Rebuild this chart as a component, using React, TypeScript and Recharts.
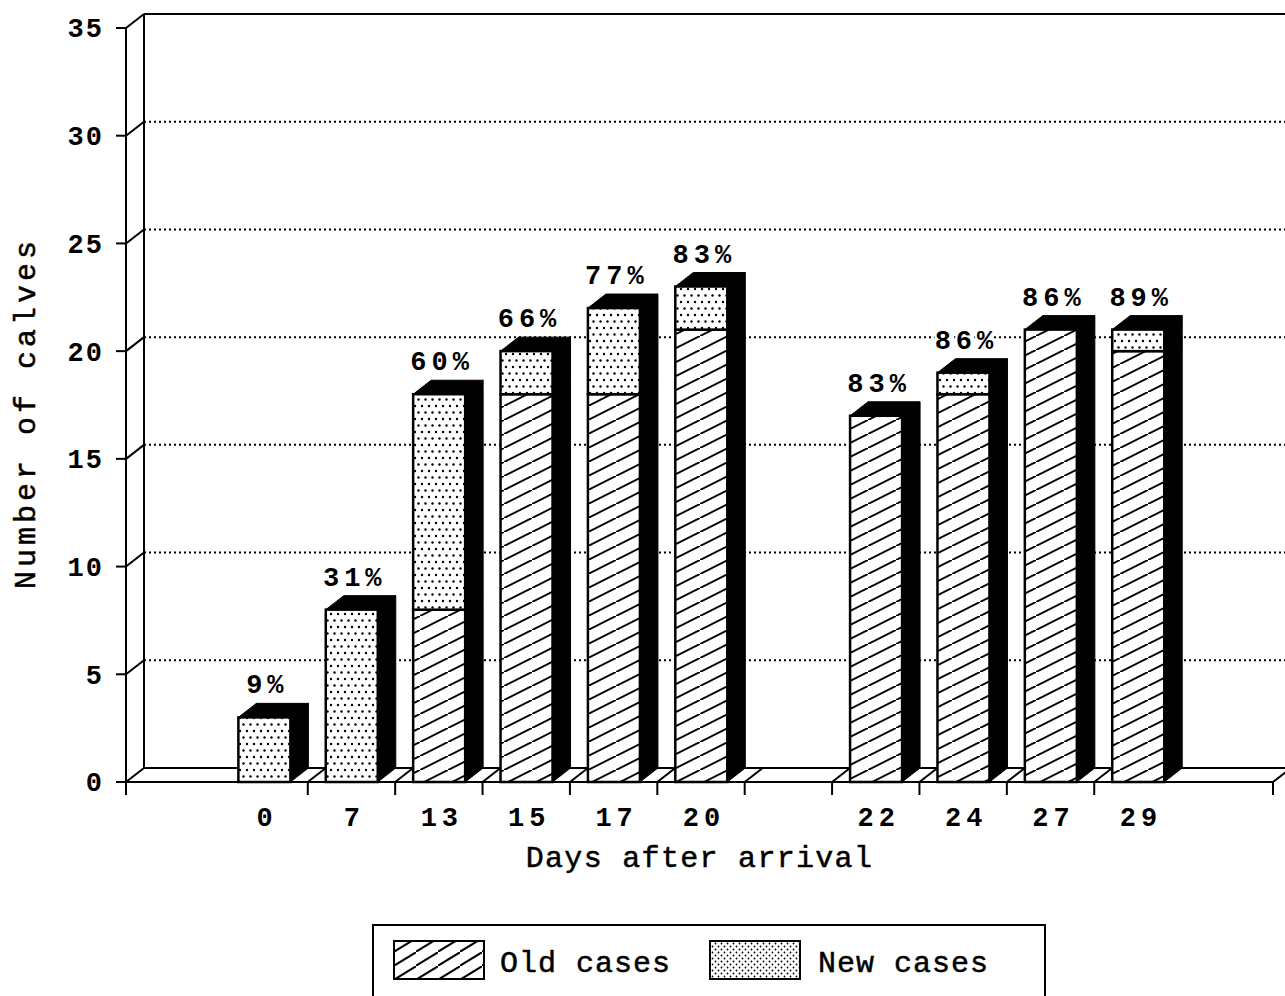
import React from "react";
import { ComposedChart, Bar, XAxis, YAxis, CartesianGrid } from "recharts";

// days after arrival; empty slots leave the gaps on the floor
const days = ["", "0", "7", "13", "15", "17", "20", "", "22", "24", "27", "29", ""];
const oldCases = [0, 0, 0, 8, 18, 18, 21, 0, 17, 18, 21, 20, 0];
const newCases = [0, 3, 8, 10, 2, 4, 2, 0, 0, 1, 0, 1, 0];
const pctLabels = ["", "9%", "31%", "60%", "66%", "77%", "83%", "", "83%", "86%", "86%", "89%", ""];
const yTicks = [0, 5, 10, 15, 20, 25, 30, 35];
// inner slot boundaries that get a tick under the floor (corners are drawn with the walls)
const edgeTicks = [2, 3, 4, 5, 6, 7, 8, 9, 10, 11];

const data = days.map((d, i) => ({
  day: d,
  old: oldCases[i],
  fresh: newCases[i],
  pct: pctLabels[i],
  slot: i + 0.5,
}));

const FONT = "'Liberation Mono', 'DejaVu Sans Mono', monospace";
const DX = 18; // depth of the 3D effect
const DY = 14;
const TICK = 13;
const X_PAD = { left: 7, right: 4 };

function drawBar(props: any, part: "old" | "fresh") {
  const { x, y, width, height, payload } = props;
  if (!(height > 0)) return <g />;
  const isTop = part === "fresh" || payload.fresh === 0;
  const fill = part === "old" ? "url(#hatchOld)" : "url(#dotsNew)";
  const right = x + width;
  return (
    <g>
      <polygon
        points={`${right},${y + height} ${right},${y} ${right + DX},${y - DY} ${right + DX},${y + height - DY}`}
        fill="#000"
        stroke="#000"
        strokeWidth={1}
      />
      {isTop && (
        <polygon
          points={`${x},${y} ${x + DX},${y - DY} ${right + DX},${y - DY} ${right},${y}`}
          fill="#000"
          stroke="#000"
          strokeWidth={1}
        />
      )}
      <rect x={x} y={y} width={width} height={height} fill={fill} stroke="#000" strokeWidth={2.5} />
      {isTop && (
        <text
          x={x + width / 2 + 3}
          y={y - DY - 10}
          textAnchor="middle"
          fontFamily={FONT}
          fontWeight="bold"
          fontSize={27}
          letterSpacing={5}
          fill="#000"
          stroke="#fff"
          strokeWidth={5}
          paintOrder="stroke"
        >
          {payload.pct}
        </text>
      )}
    </g>
  );
}

// dotted lines on the back wall, with the solid top edge, floor and corners
function wallLine(p: any) {
  const { x1, y1, x2 } = p;
  const top = p.y;
  const bottom = p.y + p.height;
  const isEdge = Math.abs(y1 - top) < 0.5 || Math.abs(y1 - bottom) < 0.5;
  const isFloor = Math.abs(y1 - bottom) < 0.5;
  return (
    <g key={p.key}>
      <line x1={x1} y1={y1} x2={x1 + DX} y2={y1 - DY} stroke="#000" strokeWidth={2} />
      <line
        x1={x1 + DX}
        y1={y1 - DY}
        x2={x2 + DX}
        y2={y1 - DY}
        stroke="#000"
        strokeWidth={2}
        strokeDasharray={isEdge ? undefined : "2 3"}
      />
      {isFloor && (
        <>
          <line x1={x1 + DX} y1={top - DY} x2={x1 + DX} y2={bottom - DY} stroke="#000" strokeWidth={2} />
          <line x1={x1} y1={y1} x2={x2} y2={y1} stroke="#000" strokeWidth={2} />
          <line x1={x1} y1={y1} x2={x1} y2={y1 + TICK} stroke="#000" strokeWidth={2} />
          <line x1={x2} y1={y1} x2={x2} y2={y1 + TICK} stroke="#000" strokeWidth={2} />
          <line x1={x2} y1={y1} x2={x2 + DX} y2={y1 - DY} stroke="#000" strokeWidth={2} />
        </>
      )}
    </g>
  );
}

const FloorEdge = (p: any) => {
  const y0 = p.y - TICK;
  return <line x1={p.x} y1={y0} x2={p.x + DX} y2={y0 - DY} stroke="#000" strokeWidth={2} />;
};

const DayTick = (p: any) => {
  const label = days[p.payload.index] ?? "";
  return (
    <text
      x={p.x + 3}
      y={p.y}
      dy="0.71em"
      textAnchor="middle"
      fontFamily={FONT}
      fontWeight="bold"
      fontSize={27}
      letterSpacing={5}
      fill="#000"
    >
      {label}
    </text>
  );
};

const CountTick = (p: any) => (
  <text
    x={p.x + 2}
    y={p.y}
    dy="0.35em"
    textAnchor="end"
    fontFamily={FONT}
    fontWeight="bold"
    fontSize={27}
    letterSpacing={2}
    fill="#000"
  >
    {p.payload.value}
  </text>
);

function Legend() {
  return (
    <svg width={674} height={90} style={{ position: "absolute", left: 372, top: 924 }}>
      <defs>
        <pattern id="hatchLeg" patternUnits="userSpaceOnUse" width={22} height={14}>
          <rect width={22} height={14} fill="#fff" />
          <path d="M-2,15 L24,-1" stroke="#000" strokeWidth={2} />
        </pattern>
        <pattern id="dotsLeg" patternUnits="userSpaceOnUse" width={6} height={6}>
          <rect width={6} height={6} fill="#fff" />
          <circle cx={1.5} cy={1.5} r={0.9} fill="#000" />
          <circle cx={4.5} cy={4.5} r={0.9} fill="#000" />
        </pattern>
      </defs>
      <rect x={1} y={1} width={672} height={100} fill="#fff" stroke="#000" strokeWidth={2} />
      <rect x={22} y={17} width={90} height={38} fill="url(#hatchLeg)" stroke="#000" strokeWidth={2} />
      <text x={128} y={48} fontFamily={FONT} fontSize={30} letterSpacing={1} fill="#000" stroke="#000" strokeWidth={0.5}>
        Old cases
      </text>
      <rect x={338} y={17} width={90} height={38} fill="url(#dotsLeg)" stroke="#000" strokeWidth={2} />
      <text x={446} y={48} fontFamily={FONT} fontSize={30} letterSpacing={1} fill="#000" stroke="#000" strokeWidth={0.5}>
        New cases
      </text>
    </svg>
  );
}

export default function App() {
  return (
    <div
      style={{
        position: "fixed",
        left: 0,
        top: 0,
        width: 1285,
        height: 996,
        overflow: "hidden",
        background: "#fff",
      }}
    >
      <ComposedChart
        width={1285}
        height={996}
        data={data}
        margin={{ top: 28, right: 12, bottom: 114, left: 0 }}
      >
        <defs>
          <pattern id="hatchOld" patternUnits="userSpaceOnUse" width={28} height={14}>
            <rect width={28} height={14} fill="#fff" />
            <path d="M-2,15 L30,-1" stroke="#000" strokeWidth={2} />
          </pattern>
          <pattern id="dotsNew" patternUnits="userSpaceOnUse" width={7} height={13}>
            <rect width={7} height={13} fill="#fff" />
            <circle cx={2} cy={3} r={1.2} fill="#000" />
            <circle cx={5.5} cy={9.5} r={1.2} fill="#000" />
          </pattern>
        </defs>
        <CartesianGrid xAxisId="cat" vertical={false} horizontal={wallLine} />
        <XAxis
          xAxisId="cat"
          dataKey="day"
          height={99}
          interval={0}
          padding={X_PAD}
          axisLine={false}
          tickLine={false}
          tickSize={0}
          tickMargin={24}
          tick={DayTick}
          label={{
            content: (p: any) => (
              <text
                x={p.viewBox.x + p.viewBox.width / 2}
                y={p.viewBox.y + 84}
                textAnchor="middle"
                fontFamily={FONT}
                fontSize={30}
                letterSpacing={1.3}
                fill="#000"
                stroke="#000"
                strokeWidth={0.5}
              >
                Days after arrival
              </text>
            ),
          }}
        />
        <XAxis
          xAxisId="base"
          type="number"
          dataKey="slot"
          domain={[0, 13]}
          allowDataOverflow
          ticks={edgeTicks}
          interval={0}
          padding={X_PAD}
          height={1}
          tickSize={TICK}
          tickMargin={0}
          axisLine={false}
          tickLine={{ stroke: "#000", strokeWidth: 2 }}
          tick={FloorEdge}
        />
        <YAxis
          domain={[0, 35]}
          ticks={yTicks}
          interval={0}
          width={126}
          tickSize={10}
          tickMargin={14}
          axisLine={{ stroke: "#000", strokeWidth: 2 }}
          tickLine={{ stroke: "#000", strokeWidth: 2 }}
          tick={CountTick}
          label={{
            content: (p: any) => {
              const cx = p.viewBox.x + 35;
              const cy = p.viewBox.y + p.viewBox.height / 2 + 8;
              return (
                <text
                  x={cx}
                  y={cy}
                  textAnchor="middle"
                  transform={`rotate(-90, ${cx}, ${cy})`}
                  fontFamily={FONT}
                  fontSize={30}
                  letterSpacing={4}
                  fill="#000"
                  stroke="#000"
                  strokeWidth={0.5}
                >
                  Number of calves
                </text>
              );
            },
          }}
        />
        <Bar
          xAxisId="cat"
          dataKey="old"
          name="Old cases"
          stackId="calves"
          barSize={52}
          isAnimationActive={false}
          shape={(p: any) => drawBar(p, "old")}
        />
        <Bar
          xAxisId="cat"
          dataKey="fresh"
          name="New cases"
          stackId="calves"
          barSize={52}
          isAnimationActive={false}
          shape={(p: any) => drawBar(p, "fresh")}
        />
      </ComposedChart>
      <Legend />
    </div>
  );
}
